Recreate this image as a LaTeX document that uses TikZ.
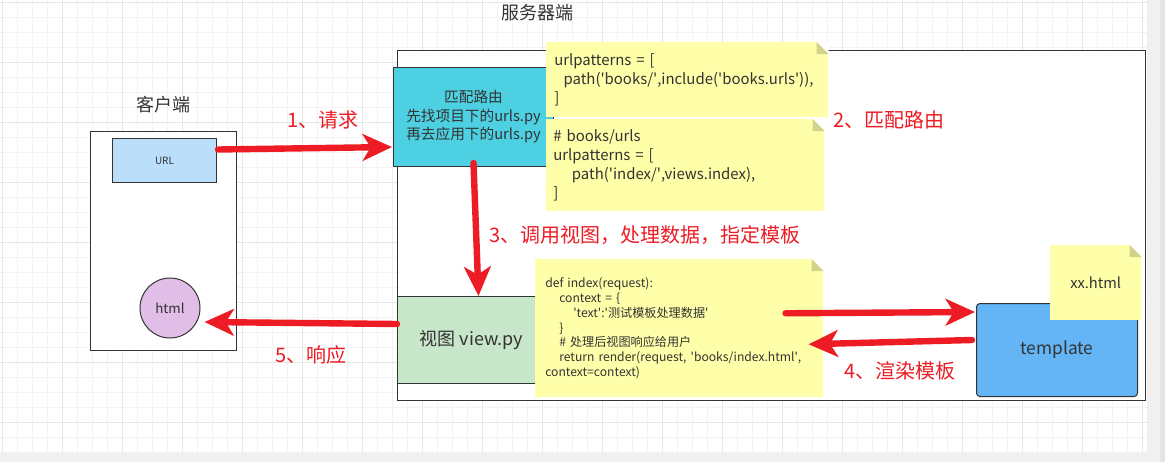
\documentclass[tikz,border=0pt]{standalone}
\usepackage{fontspec}
\setmainfont{Noto Sans CJK SC}
\usetikzlibrary{arrows.meta}
\definecolor{lnc}{HTML}{333333}
\definecolor{txt}{HTML}{333333}
\definecolor{arred}{HTML}{ED1C24}
\definecolor{notey}{HTML}{FFFFAA}
\definecolor{foldc}{HTML}{D2D28A}
\definecolor{cyanb}{HTML}{4DD0E1}
\definecolor{greenb}{HTML}{C8E6C9}
\definecolor{blueb}{HTML}{64B5F6}
\definecolor{urlb}{HTML}{BBDEFB}
\definecolor{htmlb}{HTML}{E1BEE7}
\definecolor{gridmin}{HTML}{F3F3F3}
\definecolor{gridmaj}{HTML}{E6E6E6}
\definecolor{edgeg}{HTML}{F0F0F0}
\definecolor{barg}{HTML}{E4E4E4}
\newcommand{\sqt}{\textquotesingle}

\begin{document}
\begin{tikzpicture}[x=0.75pt,y=-0.75pt,
  box/.style={draw=lnc,line width=0.75pt,inner sep=0pt,text=txt,align=center},
  note/.style={fill=notey,anchor=north west,align=left,text=txt,inner ysep=0pt},
  redarr/.style={draw=arred,line width=4.8pt,line cap=round,-{Stealth[length=22pt,width=20pt,inset=6pt]}},
  lbl/.style={text=arred,font=\fontsize{15}{18}\selectfont},
  ttl/.style={text=txt,font=\fontsize{13.5}{16}\selectfont}]
\useasboundingbox (0,0) rectangle (1165,462);
\fill[edgeg] (0,0) rectangle (1165,462);
\fill[white] (0,0) rectangle (1147,452);
\fill[barg] (1160,0) rectangle (1165,462);
\foreach \i in {0,...,76} \draw[gridmin,line width=0.75pt] (2+15*\i,0) -- (2+15*\i,452);
\foreach \i in {0,...,30} \draw[gridmin,line width=0.75pt] (0,2+15*\i) -- (1147,2+15*\i);
\foreach \i in {0,...,19} \draw[gridmaj,line width=0.75pt] (2+60*\i,0) -- (2+60*\i,452);
\foreach \i in {0,...,7} \draw[gridmaj,line width=0.75pt] (0,2+60*\i) -- (1147,2+60*\i);

\node[ttl] (st) at (537,13) {服务器端};
\node[ttl] (ct) at (163,105) {客户端};

\node[box,fill=white,anchor=north west,minimum width=561pt,minimum height=262.5pt] (sv) at (397,50) {};
\node[box,fill=white,anchor=north west,minimum width=109.5pt,minimum height=164.25pt] (cl) at (90,131) {};
\node[box,fill=urlb,anchor=north west,minimum width=78pt,minimum height=33pt,font=\fontsize{7.5}{9}\selectfont] (u) at (112,138) {URL};
\node[box,fill=htmlb,circle,minimum size=45pt,font=\fontsize{10}{12}\selectfont] (h) at (170,308) {html};

\node[box,fill=cyanb,anchor=north west,minimum width=120pt,minimum height=74.25pt,font=\fontsize{11}{13.9}\selectfont] (r) at (393,67)
  {匹配路由\\先找项目下的urls.py\\再去应用下的urls.py};
\node[box,fill=greenb,anchor=north west,minimum width=111pt,minimum height=65.25pt,font=\fontsize{13.5}{16}\selectfont] (v) at (397,296) {视图 view.py};
\node[box,fill=blueb,anchor=north west,minimum width=120.75pt,minimum height=69.75pt,rounded corners=2.5pt,font=\fontsize{13}{16}\selectfont] (t) at (976,303) {\raisebox{-2pt}{template}};

\node[note,text width=199.5pt,inner xsep=6pt,minimum height=56.25pt,font=\fontsize{11.2}{14.25}\selectfont] (na) at (546,42)
  {urlpatterns = [\\\hspace*{7pt}path(\sqt books/\sqt,include(\sqt books.urls\sqt)),\\]};
\node[note,text width=198pt,inner xsep=5.25pt,minimum height=69pt,font=\fontsize{11.2}{14.25}\selectfont] (nb) at (546,119)
  {\# books/urls\\urlpatterns = [\\\hspace*{14pt}path(\sqt index/\sqt,views.index),\\]};
\node[note,text width=201pt,inner xsep=7.5pt,minimum height=103.5pt,font=\fontsize{9.1}{11.2}\selectfont] (d) at (535,259)
  {def index(request):\\
   \hspace*{10.5pt}context = \{\\
   \hspace*{21pt}\sqt text\sqt:\sqt 测试模板处理数据\sqt\\
   \hspace*{10.5pt}\}\\
   \hspace*{10.5pt}\# 处理后视图响应给用户\\
   \hspace*{10.5pt}return render(request, \sqt books/index.html\sqt,\\
   context=context)};
\node[note,align=center,text width=68.25pt,inner xsep=0pt,minimum height=56.25pt,font=\fontsize{11}{13}\selectfont] (nx) at (1050,245) {xx.html};

\foreach \n in {na,nb,d,nx} {
  \fill[white] (\n.north east) -- ++(-12,0) -- ++(12,12) -- cycle;
  \fill[foldc] (\n.north east) ++(-12,0) -- ++(0,12) -- ++(12,0) -- cycle;
}

\draw[redarr] ([shift={(1,-11)}]u.east) -- ([shift={(-1,30)}]r.west);
\draw[redarr] ([shift={(0,-4)}]r.south) -- ([shift={(7,0)}]v.north);
\draw[redarr] ([shift={(0,-16)}]v.west) -- ([shift={(4,14)}]h.east);
\draw[redarr] ([shift={(-38,-15)}]d.east) -- ([shift={(-1,-38)}]t.west);
\draw[redarr] ([shift={(-4,-10)}]t.west) -- ([shift={(-15,16)}]d.east);

\node[lbl] (l1) at (323,120) {1、请求};
\node[lbl] (l2) at (889,120) {2、匹配路由};
\node[lbl] (l3) at (645,235) {3、调用视图，处理数据，指定模板};
\node[lbl] (l4) at (900,371) {4、渲染模板};
\node[lbl] (l5) at (311,355) {5、响应};
\end{tikzpicture}
\end{document}
